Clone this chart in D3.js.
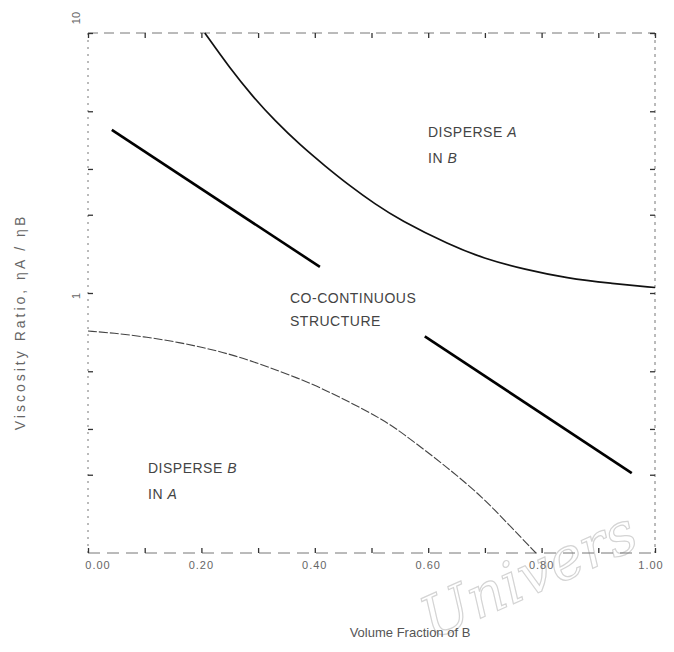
<!DOCTYPE html>
<html>
<head>
<meta charset="utf-8">
<script src="https://cdn.jsdelivr.net/npm/d3@7"></script>
<style>
  body { margin: 0; background: #fff; }
  svg { display: block; }
  text { font-family: "Liberation Sans", Arial, sans-serif; }
</style>
</head>
<body>
<svg id="chart" width="674" height="652"></svg>
<script>
//boundary between co-continuous and "disperse A in B" regions
var upperCurve = [
  [0.206, 10.0], [0.250, 7.33], [0.291, 5.68], [0.330, 4.59], [0.374, 3.71],
  [0.418, 3.08], [0.462, 2.58], [0.506, 2.20], [0.550, 1.91], [0.638, 1.53],
  [0.697, 1.36], [0.771, 1.23], [0.845, 1.14], [0.921, 1.09], [1.000, 1.05]
];

//the thick straight line, broken where the label sits
var middleLineA = [[0.042, 4.24], [0.409, 1.26]];
var middleLineB = [[0.594, 0.681], [0.959, 0.203]];

//boundary between co-continuous and "disperse B in A" regions
var lowerCurve = [
  [0.000, 0.714], [0.044, 0.702], [0.104, 0.677], [0.162, 0.645], [0.210, 0.612],
  [0.259, 0.575], [0.316, 0.522], [0.397, 0.447], [0.462, 0.380], [0.515, 0.330],
  [0.550, 0.295], [0.638, 0.210], [0.697, 0.163], [0.740, 0.130], [0.790, 0.100]
];

var xTicks = [0, 0.2, 0.4, 0.6, 0.8, 1.0];
var xTickLabels = ["0.00", "0.20", "0.40", "0.60", "0.80", "1.00"];
var xMinorTicks = [0.1, 0.3, 0.5, 0.7, 0.9];
var yTickValues = [10, 1];
var yTickLabels = ["10", "1"];
var yMinorTicks = [0.2, 0.3, 0.5, 2, 3, 5];

var svg = d3.select("#chart");

//plot box edges (named so they don't clash with window.top)
var plotLeft = 88, plotRight = 655, plotTop = 33, plotBottom = 553;

var x = d3.scaleLinear().domain([0, 1]).range([plotLeft, plotRight]);
var y = d3.scaleLog().domain([0.1, 10]).range([plotBottom, plotTop]);

var line = d3.line()
  .x(function (d) { return x(d[0]); })
  .y(function (d) { return y(d[1]); })
  .curve(d3.curveBasis);

//faint watermark behind everything
svg.append("text")
  .attr("transform", "translate(432,640) rotate(-24)")
  .style("font-family", "DejaVu Serif, serif")
  .style("font-style", "italic")
  .style("font-size", "58px")
  .style("fill", "none")
  .style("stroke", "#d4d4d4")
  .style("stroke-width", 1.2)
  .text("Univers");

//frame, drawn broken like the scanned original
var frame = svg.append("g")
  .style("stroke", "#777")
  .style("stroke-width", 1)
  .style("fill", "none");

frame.append("line").attr("x1", plotLeft).attr("x2", plotRight).attr("y1", plotTop).attr("y2", plotTop)
  .style("stroke-dasharray", "10,6");
frame.append("line").attr("x1", plotLeft).attr("x2", plotRight).attr("y1", plotBottom).attr("y2", plotBottom)
  .style("stroke-dasharray", "12,7");
frame.append("line").attr("x1", plotLeft).attr("x2", plotLeft).attr("y1", plotTop).attr("y2", plotBottom)
  .style("stroke-dasharray", "2,5");
frame.append("line").attr("x1", plotRight).attr("x2", plotRight).attr("y1", plotTop).attr("y2", plotBottom)
  .style("stroke-dasharray", "3,4");

//ticks on all four sides through d3 axis generators, pointing inward
var xAxisBottom = d3.axisBottom(x).tickValues(xTicks.concat(xMinorTicks))
  .tickSize(-5).tickFormat("");
var xAxisTop = d3.axisTop(x).tickValues(xTicks.concat(xMinorTicks))
  .tickSize(-5).tickFormat("");
var yAxisLeft = d3.axisLeft(y).tickValues(yTickValues.concat(yMinorTicks))
  .tickSize(-5).tickFormat("");
var yAxisRight = d3.axisRight(y).tickValues(yTickValues.concat(yMinorTicks))
  .tickSize(-5).tickFormat("");

[[xAxisBottom, "translate(0," + plotBottom + ")"],
 [xAxisTop, "translate(0," + plotTop + ")"],
 [yAxisLeft, "translate(" + plotLeft + ",0)"],
 [yAxisRight, "translate(" + plotRight + ",0)"]].forEach(function (a) {
  var g = svg.append("g").attr("transform", a[1]).call(a[0]);
  g.select(".domain").remove();
  g.selectAll(".tick line").style("stroke", "#333").style("stroke-width", 1.3);
});

//x tick labels
svg.append("g").selectAll("text")
  .data(xTicks)
  .enter().append("text")
  .attr("x", function (d) { return x(d) + (d === 0 ? 10 : (d === 1 ? -4 : 0)); })
  .attr("y", plotBottom + 16)
  .attr("text-anchor", "middle")
  .style("font-size", "11px")
  .style("fill", "#666")
  .style("letter-spacing", "1px")
  .text(function (d, i) { return xTickLabels[i]; });

//y tick labels, rotated like the axis title
svg.append("g").selectAll("text")
  .data(yTickValues)
  .enter().append("text")
  .attr("transform", function (d) {
    var yy = d === 10 ? y(d) - 15 : y(d) + 3;
    return "translate(80," + yy + ") rotate(-90)";
  })
  .attr("text-anchor", "middle")
  .style("font-size", "11px")
  .style("fill", "#666")
  .text(function (d, i) { return yTickLabels[i]; });

//axis titles
svg.append("text")
  .attr("x", 410)
  .attr("y", 637)
  .attr("text-anchor", "middle")
  .style("font-size", "13px")
  .style("fill", "#555")
  .text("Volume Fraction of B");

svg.append("text")
  .attr("transform", "translate(25,322) rotate(-90)")
  .attr("text-anchor", "middle")
  .style("font-size", "14px")
  .style("fill", "#666")
  .style("letter-spacing", "3px")
  .text("Viscosity Ratio, \u03b7A / \u03b7B");

//the curves
svg.append("path").datum(upperCurve)
  .attr("d", line)
  .style("fill", "none")
  .style("stroke", "#111")
  .style("stroke-width", 1.7);

[middleLineA, middleLineB].forEach(function (seg) {
  svg.append("path").datum(seg)
    .attr("d", d3.line().x(function (d) { return x(d[0]); }).y(function (d) { return y(d[1]); }))
    .style("fill", "none")
    .style("stroke", "#000")
    .style("stroke-width", 2.6);
});

svg.append("path").datum(lowerCurve)
  .attr("d", line)
  .style("fill", "none")
  .style("stroke", "#444")
  .style("stroke-width", 1.1)
  .style("stroke-dasharray", "9,2");

//region labels, the phase letters in italics
var regionLabels = [
  {x: 428, y: 137, parts: [["DISPERSE ", false], ["A", true]]},
  {x: 428, y: 163, parts: [["IN ", false], ["B", true]]},
  {x: 290, y: 303, parts: [["CO-CONTINUOUS", false]]},
  {x: 290, y: 326, parts: [["STRUCTURE", false]]},
  {x: 148, y: 473, parts: [["DISPERSE ", false], ["B", true]]},
  {x: 148, y: 499, parts: [["IN ", false], ["A", true]]}
];

regionLabels.forEach(function (lab) {
  var t = svg.append("text")
    .attr("x", lab.x)
    .attr("y", lab.y)
    .style("font-size", "14px")
    .style("fill", "#444")
    .style("letter-spacing", "0.5px");
  lab.parts.forEach(function (p) {
    t.append("tspan")
      .style("font-style", p[1] ? "italic" : "normal")
      .text(p[0]);
  });
});
</script>
</body>
</html>
